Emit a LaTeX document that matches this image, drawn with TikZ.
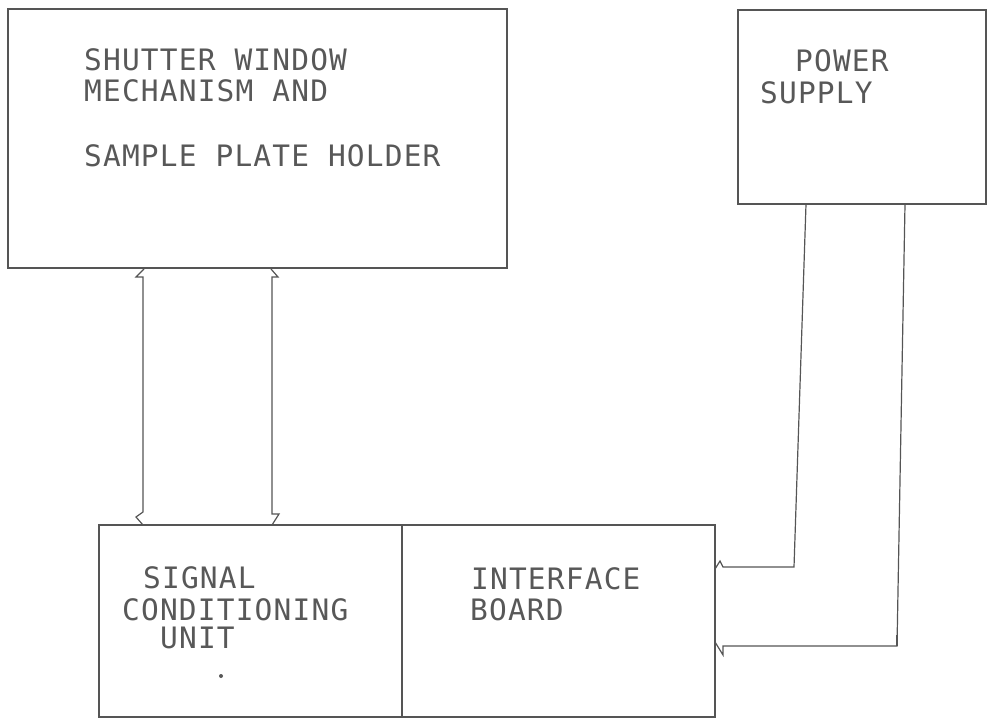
\documentclass[tikz,border=0pt]{standalone}
\usepackage{fontspec}
\newfontfamily\plotfont[LetterSpace=4]{DejaVu Sans Mono}
\usetikzlibrary{calc}
\definecolor{linec}{RGB}{85,85,85}
\definecolor{textc}{RGB}{88,88,88}
\begin{document}
\begin{tikzpicture}[x=1pt,y=-1pt]
\tikzset{
  blk/.style={draw=linec, line width=1.1pt, rectangle, inner sep=0, outer sep=0, anchor=north west},
  lbl/.style={anchor=base west, inner sep=0, text=textc, font=\plotfont\fontsize{29.5}{31}\selectfont},
  con/.style={draw=linec, line width=1.2pt, line join=miter}
}
\useasboundingbox (0,0) rectangle (987,719);
% boxes
\node[blk, minimum width=499pt, minimum height=259pt] (shutter) at (8,9) {};
\node[blk, minimum width=248pt, minimum height=194pt] (ps) at (738,10) {};
\node[blk, minimum width=303pt, minimum height=192pt] (scu) at (99,525) {};
\node[blk, minimum width=313pt, minimum height=192pt] (ib) at (402,525) {};
% labels
\node[lbl] (t1) at (84,71) {SHUTTER WINDOW};
\node[lbl] (t2) at (84,102) {MECHANISM AND};
\node[lbl] (t3) at (84,167) {SAMPLE PLATE HOLDER};
\node[lbl] (t4) at (795,72) {POWER};
\node[lbl] (t5) at (760,104) {SUPPLY};
\node[lbl] (t6) at (143,588) {SIGNAL};
\node[lbl] (t7) at (122,620) {CONDITIONING};
\node[lbl] (t8) at (160,648) {UNIT};
\node[lbl] (t9) at (471,589) {INTERFACE};
\node[lbl] (t10) at (470,620) {BOARD};
\fill[textc] (221,676) circle (2pt);
% connectors between shutter box and signal conditioning unit
\coordinate (a1) at (143,0);
\coordinate (a2) at (272,0);
\draw[con] ($(shutter.south -| a1)+(1,1)$) -- ++(-8,8) -- ++(7,0)
  -- ($(scu.north -| a1)+(0,-13)$) -- ++(-7,5) -- (scu.north -| a1);
\draw[con] ($(shutter.south -| a2)+(-1,1)$) -- ++(7,8) -- ++(-6,0)
  -- ($(scu.north -| a2)+(0,-11)$) -- ++(7,0) -- (scu.north -| a2);
% power supply lines to interface board
\coordinate (p1) at (806,0);
\coordinate (p2) at (905,0);
\coordinate (q1) at (794,567);
\coordinate (q2) at (897,646);
\draw[con] (ps.south -| p1) -- (q1) -- ($(q1 -| ib.east)+(8,0)$) -- ++(-3,-6) -- ($(q1 -| ib.east)+(0,2)$);
\draw[con] (ps.south -| p2) -- (q2) -- ($(q2 -| ib.east)+(8,0)$) -- ++(0,9) -- ($(q2 -| ib.east)+(0,-4)$);
\draw[con, line width=2.2pt] ($(q2)+(0,-11)$) -- (q2);
\end{tikzpicture}
\end{document}
